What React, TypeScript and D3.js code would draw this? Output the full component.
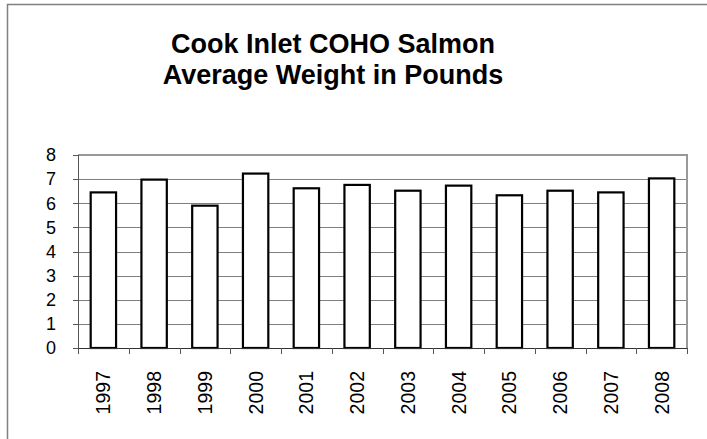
import React, { useEffect, useRef } from "react";
import * as d3 from "d3";

const years = ["1997", "1998", "1999", "2000", "2001", "2002", "2003", "2004", "2005", "2006", "2007", "2008"];
const weights = [6.45, 6.98, 5.9, 7.23, 6.62, 6.76, 6.52, 6.73, 6.33, 6.52, 6.45, 7.03];
const yTicks = [0, 1, 2, 3, 4, 5, 6, 7, 8];
const titleLines = ["Cook Inlet COHO Salmon", "Average Weight in Pounds"];

const App = () => {
  const svgRef = useRef(null);

  useEffect(() => {
    document.body.style.margin = "0";
    const svg = d3.select(svgRef.current);
    svg.selectAll("*").remove();

    const font = "'Liberation Sans', Arial, sans-serif";
    const left = 78, right = 687, top = 155, bottom = 348;

    // outer chart frame
    svg
      .append("rect")
      .attr("x", 7.5)
      .attr("y", 4.5)
      .attr("width", 800)
      .attr("height", 600)
      .attr("fill", "white")
      .attr("stroke", "#808080")
      .attr("stroke-width", 1.5);

    // title
    svg
      .append("g")
      .selectAll("text")
      .data(titleLines)
      .join("text")
      .attr("x", 333)
      .attr("y", (d, i) => 53 + i * 31)
      .attr("text-anchor", "middle")
      .style("font-family", font)
      .style("font-weight", "bold")
      .style("font-size", "27px")
      .text((d) => d);

    const x = d3
      .scaleBand()
      .domain(years)
      .range([left, right])
      .paddingInner(0.5)
      .paddingOuter(0.25);
    const y = d3.scaleLinear().domain([0, 8]).range([bottom, top]);

    // grid lines
    svg
      .append("g")
      .selectAll("line")
      .data(yTicks.filter((t) => t > 0 && t < 8))
      .join("line")
      .attr("x1", left)
      .attr("x2", right)
      .attr("y1", (d) => Math.round(y(d)) + 0.5)
      .attr("y2", (d) => Math.round(y(d)) + 0.5)
      .attr("stroke", "#808080")
      .attr("stroke-width", 1);

    // plot border top/right
    svg
      .append("path")
      .attr("d", `M${left},${top}H${right}V${bottom}`)
      .attr("fill", "none")
      .attr("stroke", "#999")
      .attr("stroke-width", 2);

    // bars
    svg
      .append("g")
      .selectAll("rect")
      .data(weights)
      .join("rect")
      .attr("x", (d, i) => x(years[i]))
      .attr("y", (d) => y(d))
      .attr("width", x.bandwidth())
      .attr("height", (d) => y(0) - y(d))
      .attr("fill", "white")
      .attr("stroke", "black")
      .attr("stroke-width", 2.2);

    // y axis
    const yAxis = svg.append("g").attr("transform", `translate(${left},0)`);
    yAxis
      .append("line")
      .attr("x1", 0.5)
      .attr("x2", 0.5)
      .attr("y1", top)
      .attr("y2", bottom)
      .attr("stroke", "#555");
    yAxis
      .selectAll("line.tick")
      .data(yTicks)
      .join("line")
      .attr("class", "tick")
      .attr("x1", -5)
      .attr("x2", 0)
      .attr("y1", (d) => Math.round(y(d)) + 0.5)
      .attr("y2", (d) => Math.round(y(d)) + 0.5)
      .attr("stroke", "#555");
    yAxis
      .selectAll("text")
      .data(yTicks)
      .join("text")
      .attr("x", -22)
      .attr("y", (d) => y(d))
      .attr("dy", "0.35em")
      .attr("text-anchor", "end")
      .style("font-family", font)
      .style("font-size", "18px")
      .text((d) => d);

    // x axis
    const xAxis = svg.append("g");
    xAxis
      .append("line")
      .attr("x1", left)
      .attr("x2", right)
      .attr("y1", bottom + 0.5)
      .attr("y2", bottom + 0.5)
      .attr("stroke", "#333");
    const boundaries = years.map((yr) => x(yr) - (x.step() * x.paddingInner()) / 2);
    boundaries.push(right);
    xAxis
      .selectAll("line.tick")
      .data(boundaries)
      .join("line")
      .attr("class", "tick")
      .attr("x1", (d) => Math.round(d) + 0.5)
      .attr("x2", (d) => Math.round(d) + 0.5)
      .attr("y1", bottom)
      .attr("y2", bottom + 6)
      .attr("stroke", "#555");
    xAxis
      .selectAll("text")
      .data(years)
      .join("text")
      .attr("transform", (d) => `translate(${x(d) + x.bandwidth() / 2 + 7},371) rotate(-90)`)
      .attr("text-anchor", "end")
      .style("font-family", font)
      .style("font-size", "19.5px")
      .text((d) => d);
  }, []);

  return <svg ref={svgRef} width={707} height={439} style={{ display: "block" }} />;
};

export default App;
